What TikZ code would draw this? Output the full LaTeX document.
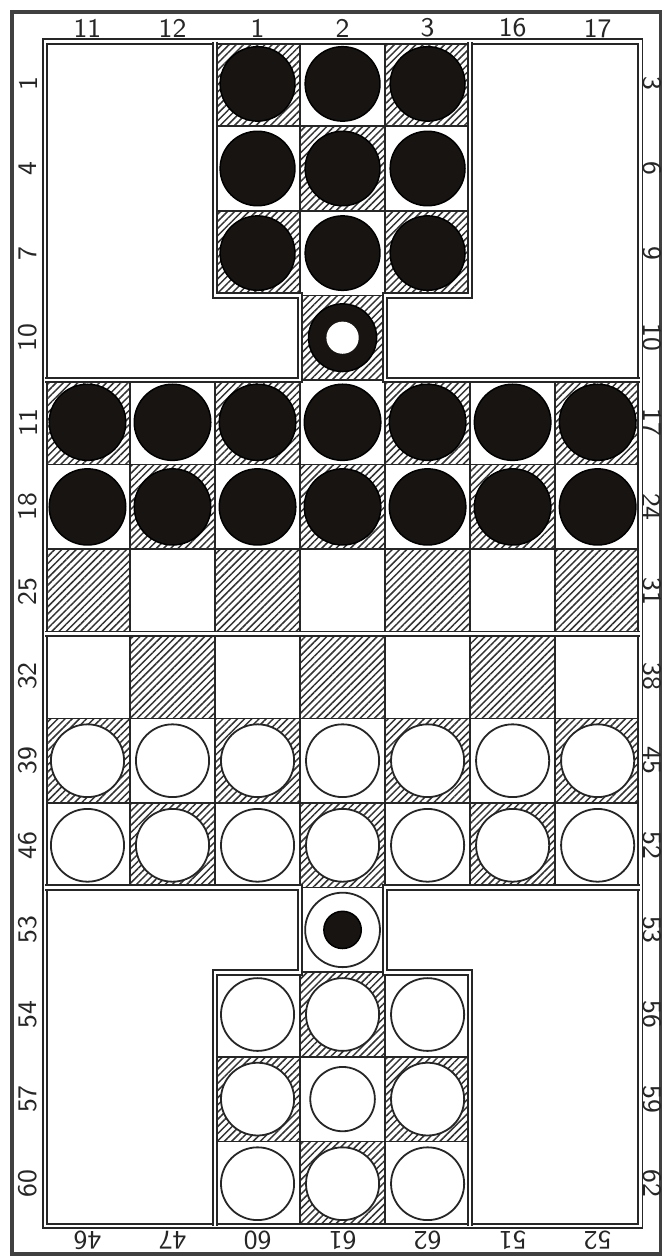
\documentclass[tikz,border=0pt]{standalone}
\usepackage{tikz}
\usetikzlibrary{patterns.meta}

\definecolor{ink}{RGB}{24,20,18}

\tikzset{
  frame/.style={draw=black!75, line width=1.1pt},
  rim/.style={draw=black!85, line width=0.65pt, double=white, double distance=0.9pt},
  grid line/.style={draw=black!85, line width=0.55pt},
  hatched/.style={pattern={Lines[angle=45,distance=1.7pt,line width=0.5pt]}, pattern color=black!80},
  blackman/.style={fill=ink, draw=black, line width=0.5pt},
  whiteman/.style={fill=white, draw=black!85, line width=0.6pt},
  lbl/.style={font=\sffamily\fontsize{9}{10}\selectfont, text=black!85, inner sep=0pt}
}

% one square of the board, hatched on the dark colour
\newcommand{\boardsq}[2]{%
  \pgfmathtruncatemacro{\sqodd}{mod(#1+#2,2)}%
  \ifnum\sqodd=1 \fill[hatched] (#1,#2) rectangle ++(1,1);\fi
  \draw[grid line] (#1,#2) rectangle ++(1,1);%
}

\begin{document}
\begin{tikzpicture}[x=1cm, y=0.995cm]
  \path[use as bounding box, fill=white] (-0.529,-0.378) rectangle (7.353,14.492);
  \draw[frame] (-0.388,-0.331) rectangle (7.235,14.35);

  % Squares
  \foreach \col in {2,3,4} \foreach \row in {0,1,2,11,12,13} {\boardsq{\col}{\row}}
  \boardsq{3}{3}
  \boardsq{3}{10}
  \foreach \col in {0,...,6} \foreach \row in {4,...,9} {\boardsq{\col}{\row}}

  % Black men
  \foreach \col in {2,3,4} \foreach \row in {11,12,13} {\path[blackman] (\col+0.5,\row+0.5) circle (0.44);}
  \foreach \col in {0,...,6} \foreach \row in {8,9} {\path[blackman] (\col+0.5,\row+0.5) circle (0.45);}
  \path[blackman] (3.5,10.5) circle (0.4);
  \path[fill=white] (3.5,10.5) circle (0.19);

  % White men
  \foreach \col in {0,...,6} \foreach \row in {4,5} {\path[whiteman] (\col+0.5,\row+0.5) circle (0.43);}
  \foreach \col/\row in {2/0,3/0,4/0,2/1,4/1,2/2,3/2,4/2} {\path[whiteman] (\col+0.5,\row+0.5) circle (0.43);}
  \path[whiteman] (3.5,1.5) circle (0.38);
  \path[whiteman] (3.5,3.5) circle (0.44);
  \path[blackman] (3.5,3.5) circle (0.22);

  % Rim
  \draw[rim] (0,0) rectangle (7,14);
  \draw[rim] (2,14) -- (2,11) -- (3,11) -- (3,10) -- (0,10)
    (0,4) -- (3,4) -- (3,3) -- (2,3) -- (2,0)
    (5,0) -- (5,3) -- (4,3) -- (4,4) -- (7,4)
    (7,10) -- (4,10) -- (4,11) -- (5,11) -- (5,14);
  \draw[rim] (0,7) -- (7,7);

  % Numbers round the board
  \foreach \t [count=\i from 0] in {11,12,1,2,3,16,17}
    \node[lbl] (top\i) at (\i+0.5,14.16) {\t};
  \foreach \t [count=\i from 0] in {46,47,60,61,62,51,52}
    \node[lbl, rotate=180] (bot\i) at (\i+0.5,-0.165) {\t};
  \foreach \t [count=\i from 0] in {1,4,7,10,11,18,25,32,39,46,53,54,57,60}
    \node[lbl, rotate=90] (left\i) at (-0.2,13.5-\i) {\t};
  \foreach \t [count=\i from 0] in {3,6,9,10,17,24,31,38,45,52,53,56,59,62}
    \node[lbl, rotate=-90] (right\i) at (7.14,13.5-\i) {\t};
\end{tikzpicture}
\end{document}
